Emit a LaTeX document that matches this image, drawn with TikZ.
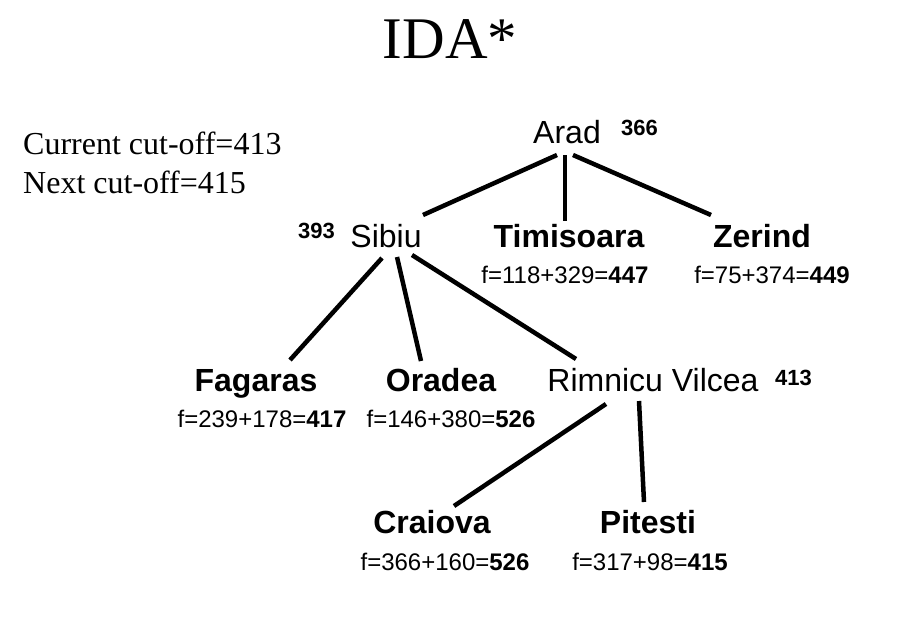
\documentclass[tikz,border=0pt]{standalone}
\usepackage{fontspec}
\setmainfont{Liberation Serif}
\setsansfont{Liberation Sans}
\usetikzlibrary{calc}

\begin{document}
\begin{tikzpicture}[x=1pt,y=-1pt,
    city/.style={anchor=base,inner sep=0pt,font=\sffamily\fontsize{32}{36}\selectfont},
    bcity/.style={anchor=base,inner sep=0pt,font=\sffamily\bfseries\fontsize{32}{36}\selectfont},
    fval/.style={anchor=base,inner sep=0pt,font=\sffamily\fontsize{24}{28}\selectfont},
    hval/.style={anchor=base west,inner sep=0pt,font=\sffamily\bfseries\fontsize{22}{26}\selectfont},
    note/.style={anchor=base west,inner sep=0pt,font=\fontsize{32}{36}\selectfont},
    edge/.style={line width=4.5pt}]
  \useasboundingbox (0,0) rectangle (897,616);
  \node[anchor=base,inner sep=0pt,font=\fontsize{59}{66}\selectfont] (title) at (450,58) {IDA*};
  \node[note] (cur) at (23,154) {Current cut-off=413};
  \node[note] (next) at (23,193) {Next cut-off=415};
  % the tree
  \node[city] (arad) at (567,143) {Arad};
  \node[hval] (aradh) at (621,135) {366};
  \node[city] (sibiu) at (386,247) {Sibiu};
  \node[hval] (sibiuh) at (298,238) {393};
  \node[bcity] (timi) at (569,247) {Timisoara};
  \node[fval] (timif) at (565,283) {f=118+329=\textbf{447}};
  \node[bcity] (zer) at (762,247) {Zerind};
  \node[fval] (zerf) at (772,283) {f=75+374=\textbf{449}};
  \node[bcity] (fag) at (256,391) {Fagaras};
  \node[fval] (fagf) at (262,427) {f=239+178=\textbf{417}};
  \node[bcity] (ora) at (441,391) {Oradea};
  \node[fval] (oraf) at (451,427) {f=146+380=\textbf{526}};
  \node[city] (rim) at (653,391) {Rimnicu Vilcea};
  \node[hval] (rimh) at (775,385) {413};
  \node[bcity] (cra) at (432,533) {Craiova};
  \node[fval] (craf) at (445,570) {f=366+160=\textbf{526}};
  \node[bcity] (pit) at (648,533) {Pitesti};
  \node[fval] (pitf) at (650,570) {f=317+98=\textbf{415}};
  % edges
  \draw[edge] ([shift={(-10,12)}]arad.base) -- ([shift={(37,-32)}]sibiu.base);
  \draw[edge] ([shift={(-2,12)}]arad.base) -- ([shift={(-4,-26)}]timi.base);
  \draw[edge] ([shift={(6,12)}]arad.base) -- ([shift={(-51,-32)}]zer.base);
  \draw[edge] ([shift={(-4,11)}]sibiu.base) -- ([shift={(34,-31)}]fag.base);
  \draw[edge] ([shift={(11,10)}]sibiu.base) -- ([shift={(-20,-30)}]ora.base);
  \draw[edge] ([shift={(26,8)}]sibiu.base) -- ([shift={(-77,-32)}]rim.base);
  \draw[edge] ([shift={(-47,13)}]rim.base) -- ([shift={(22,-27)}]cra.base);
  \draw[edge] ([shift={(-14,10)}]rim.base) -- ([shift={(-4,-31)}]pit.base);
\end{tikzpicture}
\end{document}
